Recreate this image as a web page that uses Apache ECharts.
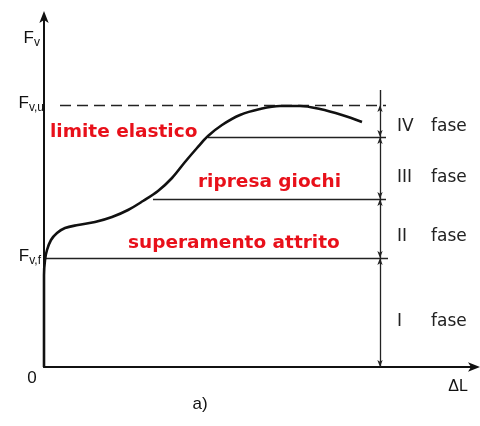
<!DOCTYPE html>
<html>
<head>
<meta charset="utf-8">
<script src="https://cdn.jsdelivr.net/npm/echarts@6/dist/echarts.min.js"></script>
<style>
  html, body { margin: 0; padding: 0; background: #fff; }
  #chart { width: 480px; height: 426px; }
</style>
</head>
<body>
<div id="chart"></div>
<script>
// Force–elongation curve of a bolted joint (arbitrary units: ΔL horizontally, Fv vertically)
const curveDL = [0, 0, 0, 1, 3, 7, 13, 21, 34, 51, 68, 84, 99, 114, 128, 141, 153, 164, 178, 196, 216, 236, 256, 276, 298, 318];
const curveFv = [0, 67, 92, 107, 117, 127, 134, 139, 142, 145, 150, 157, 166, 176, 189, 205, 219, 231, 242, 252, 258, 261, 261, 258, 252, 245];

// Characteristic force levels
const FvU = 262;       // ultimate load
const FvElastic = 230; // end of elastic range
const FvGioco = 168;   // clearances taken up
const FvF = 109;       // friction overcome

// Phase boundaries along the dimension line (top to bottom)
const phaseBounds = [FvU, FvElastic, FvGioco, FvF, 0];
const phaseNames = ['IV', 'III', 'II', 'I'];
const phaseMid = [240, 189, 130, 45];

// Red annotations
const stageTexts = ['limite elastico', 'ripresa giochi', 'superamento attrito'];
const stageTextPos = [[6, 235], [154, 185], [84, 124]];

// Horizontal reference lines [y, xStart, xEnd]
const refLines = [[FvElastic, 164, 342], [FvGioco, 109, 342], [FvF, 0, 344]];
const dimX = 336;      // position of the dimension line
const dimTop = 277;

const X_MAX = 432, Y_MAX = 352;

const chart = echarts.init(document.getElementById('chart'), null, { renderer: 'canvas' });

const ink = '#111';
const thin = '#222';

const curveData = curveDL.map((x, i) => [x, curveFv[i]]);

// dimension line segments with arrowheads at both ends
const dimSegments = [];
for (let i = 0; i < phaseBounds.length - 1; i++) {
  dimSegments.push([
    { coord: [dimX, phaseBounds[i]] },
    { coord: [dimX, phaseBounds[i + 1]] }
  ]);
}

const noStroke = { textBorderWidth: 0, textBorderColor: 'transparent', textShadowBlur: 0 };
const labelPoint = (x, y, text, label) => ({
  value: [x, y],
  label: Object.assign({ formatter: text }, noStroke, label)
});

const subRich = {
  f: Object.assign({ fontSize: 17, fontFamily: 'Liberation Sans', color: ink }, noStroke),
  s: Object.assign({ fontSize: 12, fontFamily: 'Liberation Sans', color: ink, padding: [9, 0, 0, 0] }, noStroke)
};

const option = {
  animation: false,
  backgroundColor: '#fff',
  grid: { left: 44, right: 4, top: 15, bottom: 59, containLabel: false },
  xAxis: {
    type: 'value', min: 0, max: X_MAX,
    axisLine: { show: true, onZero: false, lineStyle: { color: ink, width: 2 }, symbol: ['none', 'arrow'], symbolSize: [7, 12], symbolOffset: [0, 4] },
    axisTick: { show: false }, axisLabel: { show: false }, splitLine: { show: false }
  },
  yAxis: {
    type: 'value', min: 0, max: Y_MAX,
    axisLine: { show: true, onZero: false, lineStyle: { color: ink, width: 2 }, symbol: ['none', 'arrow'], symbolSize: [7, 12], symbolOffset: [0, 4] },
    axisTick: { show: false }, axisLabel: { show: false }, splitLine: { show: false }
  },
  series: [
    {
      // reference lines and the dimension line
      type: 'line',
      data: [],
      silent: true,
      markLine: {
        silent: true,
        animation: false,
        symbol: ['none', 'none'],
        label: { show: false },
        lineStyle: { color: thin, width: 1.4, type: 'solid' },
        data: [
          [{ coord: [16, FvU], lineStyle: { type: [11, 6], width: 1.4, color: '#222' } }, { coord: [342, FvU] }],
          ...refLines.map(r => [{ coord: [r[1], r[0]] }, { coord: [r[2], r[0]] }]),
          [{ coord: [dimX, dimTop] }, { coord: [dimX, FvU] }]
        ]
      }
    },
    {
      type: 'line',
      data: [],
      silent: true,
      markLine: {
        silent: true,
        animation: false,
        symbol: ['arrow', 'arrow'],
        symbolSize: [4, 7],
        label: { show: false },
        lineStyle: { color: thin, width: 1.3, type: 'solid' },
        data: dimSegments
      }
    },
    {
      name: 'Fv',
      type: 'line',
      data: curveData,
      smooth: 0.35,
      showSymbol: false,
      lineStyle: { color: ink, width: 2.6 },
      z: 5
    },
    {
      // text annotations
      type: 'scatter',
      clip: false,
      symbolSize: 0,
      itemStyle: { color: '#fff', opacity: 1 },
      silent: true,
      z: 6,
      label: { show: true, position: 'inside' },
      data: [
        labelPoint(-2, 329, '{f|F}{s|v}', { align: 'right', rich: subRich, offset: [-2, 0] }),
        labelPoint(0, 264, '{f|F}{s|v,u}', { align: 'right', rich: subRich }),
        labelPoint(-3, 111, '{f|F}{s|v,f}', { align: 'right', rich: subRich }),
        labelPoint(-12, -11, '0', { fontSize: 17, fontFamily: 'Liberation Sans', color: ink }),
        labelPoint(414, -20, 'ΔL', { fontSize: 16, fontFamily: 'Liberation Sans', color: ink }),
        labelPoint(156, -37, 'a)', { fontSize: 17, fontFamily: 'Liberation Sans', color: ink }),
        ...stageTexts.map((t, i) => labelPoint(stageTextPos[i][0], stageTextPos[i][1], t, {
          align: 'left', fontSize: 18.5, fontWeight: 'bold', fontFamily: 'DejaVu Sans', color: '#e8101a'
        })),
        ...phaseNames.map((n, i) => labelPoint(353, phaseMid[i], n, {
          align: 'left', fontSize: 17, fontFamily: 'DejaVu Sans', color: '#222'
        })),
        ...phaseNames.map((n, i) => labelPoint(387, phaseMid[i], 'fase', {
          align: 'left', fontSize: 17, fontFamily: 'DejaVu Sans', color: '#222'
        }))
      ]
    }
  ]
};

chart.setOption(option);
</script>
</body>
</html>
